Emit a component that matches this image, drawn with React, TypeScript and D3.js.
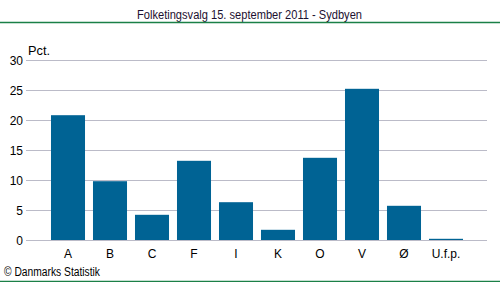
import React from "react";
import * as d3 from "d3";

const categories = ["A", "B", "C", "F", "I", "K", "O", "V", "Ø", "U.f.p."];
const values = [20.8, 9.8, 4.2, 13.2, 6.3, 1.7, 13.7, 25.2, 5.7, 0.2];
const yTicks = [0, 5, 10, 15, 20, 25, 30];
const title = "Folketingsvalg 15. september 2011 - Sydbyen";
const unit = "Pct.";
const source = "© Danmarks Statistik";

const W = 500;
const H = 282;
const font = "'Liberation Sans', Arial, sans-serif";

export default function App() {
  const x = d3.scaleBand<string>().domain(categories).range([47, 467]).paddingInner(0.19).paddingOuter(0.095);
  const y = d3.scaleLinear().domain([0, 30]).range([240, 60]);
  const gridX1 = 26;
  const gridX2 = 487;
  return (
    <svg width={W} height={H} style={{ position: "absolute", left: 0, top: 0, display: "block" }} fontFamily={font}>
      <rect x={0} y={0} width={W} height={H} fill="#fff" />
      <text x={137} y={19} fontSize={12} fill="#1c1030" textLength={225} lengthAdjust="spacingAndGlyphs">{title}</text>
      <line x1={0} x2={W} y1={22.5} y2={22.5} stroke="#1b8047" strokeWidth={1.5} />
      {yTicks.map((t) => (
        <g key={t}>
          <line x1={gridX1} x2={gridX2} y1={Math.round(y(t)) + 0.5} y2={Math.round(y(t)) + 0.5} stroke="#bbbbc8" strokeWidth={1} />
          <text x={23} y={y(t) + 4.5} textAnchor="end" fontSize={12} fill="#000">{t}</text>
        </g>
      ))}
      <text x={28} y={55} fontSize={12} fill="#000" textLength={22} lengthAdjust="spacingAndGlyphs">{unit}</text>
      {categories.map((c, i) => (
        <rect key={c} x={x(c)} y={y(values[i])} width={x.bandwidth()} height={y(0) - y(values[i])} fill="#006394" />
      ))}
      {categories.map((c) => (
        <text key={c} x={(x(c) as number) + x.bandwidth() / 2} y={258} textAnchor="middle" fontSize={12} fill="#000">{c}</text>
      ))}
      <text x={4} y={276} fontSize={12} fill="#000" textLength={96} lengthAdjust="spacingAndGlyphs">{source}</text>
      <line x1={0} x2={W} y1={281.5} y2={281.5} stroke="#1b8047" strokeWidth={1.5} />
    </svg>
  );
}
